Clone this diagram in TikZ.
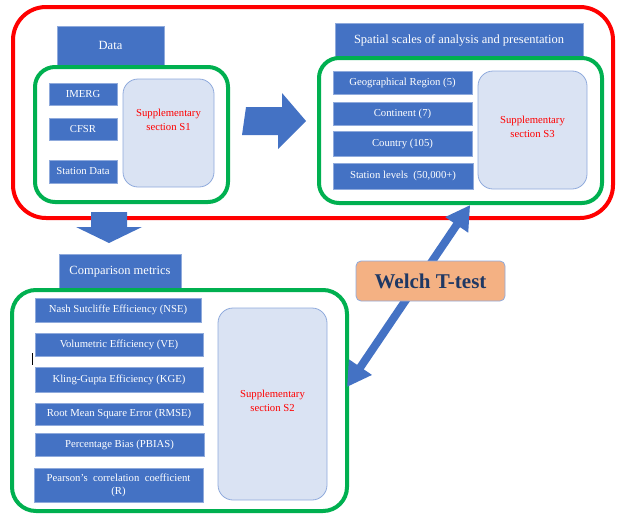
\documentclass[tikz,border=0pt]{standalone}
\usepackage{fontspec}
\setmainfont{Liberation Serif}
\usetikzlibrary{arrows.meta,calc}
\definecolor{boxblue}{HTML}{4472C4}
\definecolor{boxedge}{HTML}{8FAADC}
\definecolor{gr}{HTML}{00B050}
\definecolor{rd}{HTML}{FF0000}
\definecolor{lightfill}{HTML}{DAE3F3}
\definecolor{lightedge}{HTML}{8FAADC}
\definecolor{welchfill}{HTML}{F4B183}
\definecolor{welchtext}{HTML}{1F3864}
\begin{document}
\begin{tikzpicture}[x=1pt,y=-1pt,
  redframe/.style={draw=rd,line width=4pt,rounded corners=33pt,inner sep=0pt},
  greenframe/.style={draw=gr,line width=4pt,rounded corners=20pt,inner sep=0pt},
  header/.style={fill=boxblue,draw=boxedge,line width=0.5pt,text=white,inner sep=0pt,font=\fontsize{12.5}{14}\selectfont},
  item/.style={fill=boxblue,draw=boxedge,line width=0.5pt,text=white,inner sep=0pt,font=\fontsize{10.7}{13}\selectfont,align=center},
  supp/.style={fill=lightfill,draw=lightedge,line width=0.8pt,rounded corners=15pt,inner sep=0pt},
  supptext/.style={text=rd,align=center,font=\fontsize{10.7}{14}\selectfont,inner sep=0pt},
  blockarrow/.style={fill=boxblue,draw=none},
  dblarrow/.style={draw=boxblue,line width=8pt,{Triangle[length=24pt,width=26pt]}-{Triangle[length=24pt,width=26pt]}},
  welch/.style={fill=welchfill,draw=boxedge,line width=0.8pt,rounded corners=5pt,text=welchtext,font=\fontsize{21}{24}\selectfont\bfseries,inner sep=0pt}
]
\useasboundingbox (0,0) rectangle (617,514);

% outer red frame
\node[redframe,minimum width=600pt,minimum height=211pt] (outer) at (313,112.5) {};

% ---- Data block ----
\node[header,minimum width=107pt,minimum height=39pt] (dataH) at (110.5,45.5) {Data};
\node[greenframe,minimum width=193pt,minimum height=135pt] (g1) at (131.5,134.5) {};
\node[item,minimum width=68pt,minimum height=22pt] (imerg) at (83,94) {IMERG};
\node[item,minimum width=68pt,minimum height=22pt] (cfsr) at (83,129) {CFSR};
\node[item,minimum width=68pt,minimum height=23pt] (stdata) at (83,171.5) {Station Data};
\node[supp,minimum width=91pt,minimum height=108pt] (s1) at (168.5,133) {};
\node[supptext] (s1t) at (168.5,120) {Supplementary\\section S1};

% ---- Spatial block ----
\node[header,minimum width=248pt,minimum height=34pt] (spatH) at (459,40) {Spatial scales of analysis and presentation};
\node[greenframe,minimum width=283pt,minimum height=145pt] (g2) at (460.5,130.5) {};
\node[item,minimum width=139pt,minimum height=23pt] (geo) at (402.5,82.5) {Geographical Region (5)};
\node[item,minimum width=139pt,minimum height=23pt] (cont) at (402.5,113.5) {Continent (7)};
\node[item,minimum width=139pt,minimum height=25pt] (ctry) at (402.5,143.5) {Country (105)};
\node[item,minimum width=140pt,minimum height=26pt] (stlev) at (403,176) {Station levels~~(50,000+)};
\node[supp,minimum width=109pt,minimum height=118pt] (s3) at (532.5,130) {};
\node[supptext] (s3t) at (532.5,127) {Supplementary\\section S3};

% right block arrow (g1 -> g2)
\fill[blockarrow] ($(g1.east)+(16,-27.5)$) coordinate (ra1) -- ++(36,0) -- ++(0,-14) -- ($(g2.west)+(-11,-9.5)$) coordinate (ra2) -- ++(-28,28) -- ++(0,-14) -- ++(-36,0) -- cycle;

% down block arrow
\fill[blockarrow] (91,212) coordinate (da1) -- (127,212) -- (127,227) -- (142,227) -- (109,243) coordinate (da2) -- (76,227) -- (91,227) -- cycle;

% ---- Comparison metrics block ----
\node[header,minimum width=122pt,minimum height=35pt] (compH) at (120,271.5) {Comparison metrics};
\node[greenframe,rounded corners=24pt,minimum width=335pt,minimum height=221pt] (g3) at (179.5,400.5) {};
\node[item,minimum width=166pt,minimum height=24pt] (nse) at (118,310) {Nash Sutcliffe Efficiency (NSE)};
\node[item,minimum width=168pt,minimum height=23pt] (ve) at (119,344.5) {Volumetric Efficiency (VE)};
\node[item,minimum width=168pt,minimum height=25pt] (kge) at (119,379.5) {Kling-Gupta Efficiency (KGE)};
\node[item,minimum width=168pt,minimum height=22pt] (rmse) at (119,414) {Root Mean Square Error (RMSE)};
\node[item,minimum width=169pt,minimum height=23pt] (pbias) at (119.5,444.5) {Percentage Bias (PBIAS)};
\node[item,minimum width=169pt,minimum height=34pt] (pear) at (118.5,485) {Pearson's~ correlation~ coefficient\\(R)};
\node[supp,minimum width=109pt,minimum height=192pt] (s2) at (272.5,404) {};
\node[supptext] (s2t) at (272.5,401) {Supplementary\\section S2};

% stray tick
\draw[black,line width=0.8pt] ($(ve.south west)+(-2,-3)$) coordinate (tk1) -- ++(0,12);

% double arrow g2 <-> g3
\draw[dblarrow] ($(g2.south west)!0.5336!(g2.south east)$) -- ($(g3.east)+(-2,-13.5)$);

% Welch box
\node[welch,minimum width=149pt,minimum height=40pt] (welch) at (430.5,281) {Welch T-test};
\end{tikzpicture}
\end{document}
